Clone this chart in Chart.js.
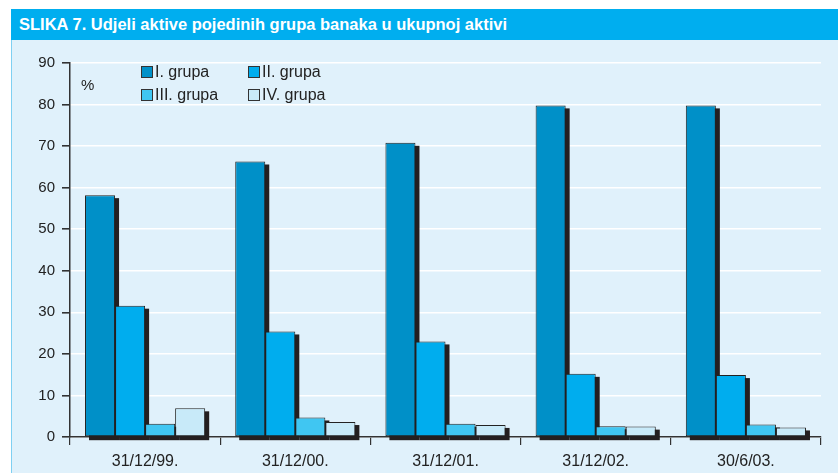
<!DOCTYPE html>
<html>
<head>
<meta charset="utf-8">
<script src="https://cdn.jsdelivr.net/npm/chart.js@4/dist/chart.umd.min.js"></script>
<style>
  body { margin: 0; background: #fff; font-family: "Liberation Sans", Arial, Helvetica, sans-serif; }
  #wrap { position: relative; width: 838px; height: 473px; overflow: hidden; }
  #title {
    position: absolute; left: 11px; top: 9px; width: 827px; height: 31px;
    background: #00aeef; color: #fff; font-weight: bold; font-size: 16.5px;
    line-height: 31px; padding-left: 8px; box-sizing: border-box;
  }
  #panel { position: absolute; left: 11px; top: 40px; width: 827px; height: 433px; background: #e0f1fb; border-left: 1px solid #7fd0f2; box-sizing: border-box; }
  #chart { position: absolute; left: 0; top: 40px; }
  .leg { position: absolute; font-size: 16px; color: #222; line-height: 16px; white-space: nowrap; }
  .leg span { display: inline-block; width: 10px; height: 10px; border: 1px solid #333; vertical-align: -1px; margin-right: 2px; }
</style>
</head>
<body>
<div id="wrap">
  <div id="title">SLIKA 7. Udjeli aktive pojedinih grupa banaka u ukupnoj aktivi</div>
  <div id="panel"></div>
  <canvas id="chart" width="838" height="433"></canvas>
  <div id="legend"></div>
</div>
<script>
// data
const categories = ['31/12/99.', '31/12/00.', '31/12/01.', '31/12/02.', '30/6/03.'];
const series_names = ['I. grupa', 'II. grupa', 'III. grupa', 'IV. grupa'];
const grupa1 = [58.2, 66.3, 70.8, 79.8, 79.8];
const grupa2 = [31.6, 25.4, 23.0, 15.2, 14.9];
const grupa3 = [3.2, 4.7, 3.2, 2.6, 3.0];
const grupa4 = [6.9, 3.6, 2.9, 2.5, 2.3];
const y_ticks = [0, 10, 20, 30, 40, 50, 60, 70, 80, 90];

const colors = ['#0090c8', '#00adee', '#40c6f2', '#c8eaf9'];
const font_family = '"Liberation Sans", Arial, Helvetica, sans-serif';

// legend (2 x 2)
const legend_pos = [[141, 66], [248, 66], [141, 89], [248, 89]];
const legend_el = document.getElementById('legend');
series_names.forEach((name, i) => {
    const d = document.createElement('div');
    d.className = 'leg';
    d.style.left = legend_pos[i][0] + 'px';
    d.style.top = (legend_pos[i][1] - 2) + 'px';
    d.innerHTML = '<span style="background:' + colors[i] + '"></span>' + name;
    legend_el.appendChild(d);
});

// shadows behind bars + "%" label
const shadowPlugin = {
    id: 'barShadow',
    beforeDatasetsDraw(chart) {
        const c = chart.ctx;
        c.save();
        c.fillStyle = '#231f20';
        chart.data.datasets.forEach((ds, i) => {
            chart.getDatasetMeta(i).data.forEach(bar => {
                const p = bar.getProps(['x', 'y', 'base', 'width'], true);
                c.fillRect(p.x - p.width / 2 + 4, p.y + 3, p.width, p.base - p.y + 1);
            });
        });
        c.restore();
    },
    afterDraw(chart) {
        const c = chart.ctx;
        c.save();
        c.fillStyle = '#222';
        c.font = '15px ' + font_family;
        c.textBaseline = 'middle';
        c.fillText('%', 81, 46);
        c.restore();
    }
};

const ctx = document.getElementById('chart').getContext('2d');
const all_series = [grupa1, grupa2, grupa3, grupa4];

new Chart(ctx, {
    type: 'bar',
    data: {
        labels: categories,
        datasets: all_series.map((vals, i) => ({
            label: series_names[i],
            data: vals,
            backgroundColor: colors[i],
            borderColor: '#222',
            borderWidth: 1,
            borderSkipped: false,
            categoryPercentage: 0.8,
            barPercentage: 1.0
        }))
    },
    options: {
        responsive: false,
        animation: false,
        layout: { padding: { top: 23, right: 17, left: 0, bottom: 0 } },
        plugins: { legend: { display: false }, tooltip: { enabled: false } },
        scales: {
            x: {
                offset: true,
                grid: { offset: true, drawOnChartArea: false, drawTicks: true, tickLength: 8, tickColor: '#333', lineWidth: 1.2 },
                border: { color: '#333', width: 1.5 },
                ticks: { color: '#222', font: { size: 16, family: font_family }, padding: 7 },
                afterFit(scale) { scale.height = 36; }
            },
            y: {
                min: 0,
                max: 90,
                afterBuildTicks(scale) { scale.ticks = y_ticks.map(v => ({ value: v })); },
                grid: { color: '#ffffff', lineWidth: 1.6, tickColor: '#333', tickLength: 8 },
                border: { color: '#333', width: 1.5 },
                ticks: { color: '#222', font: { size: 15, family: font_family }, padding: 7 },
                afterFit(scale) { scale.width = 70; }
            }
        }
    },
    plugins: [shadowPlugin]
});
</script>
</body>
</html>
